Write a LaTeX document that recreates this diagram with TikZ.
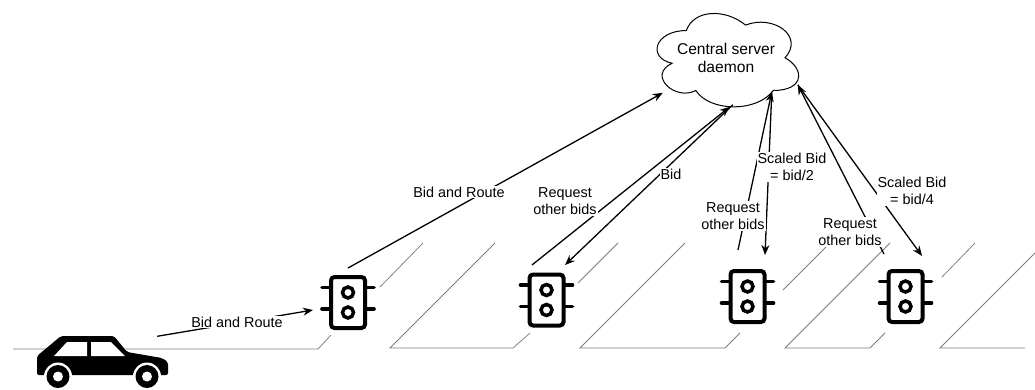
\documentclass[tikz,border=0pt]{standalone}
\usepackage{fontspec}
\setmainfont{Liberation Sans}
\usetikzlibrary{arrows.meta,calc}
\definecolor{roadgray}{RGB}{125,125,125}

\begin{document}
\begin{tikzpicture}[x=1pt,y=-1pt,
  road/.style={draw=roadgray, line width=0.75pt},
  link/.style={draw=black, line width=1.3pt, -{Stealth[length=10pt,width=8pt]}},
  tag/.style={fill=white, inner sep=1pt, align=center, font=\fontsize{14.4}{17.3}\selectfont},
  lightbody/.style={draw, line width=4pt, rounded corners=3.5pt, minimum width=34pt,
                    minimum height=51pt, inner sep=0pt},
  lamp/.style={line width=3.5pt},
  tick/.style={line width=3.6pt, line cap=round},
]
\useasboundingbox (0,0) rectangle (1035,389);
\clip (0,0) rectangle (1035,389);

% road lanes
\draw[road] (13,349) -- (318,349) -- (331,335);
\draw[road] (380,287) -- (423,243);
\draw[road] (495,243) -- (390,348) -- (513,348) -- (530,333);
\draw[road] (578,283) -- (618,243);
\draw[road] (685,243) -- (580,348) -- (725,348) -- (740,333);
\draw[road] (783,290) -- (830,243);
\draw[road] (890,243) -- (785,348) -- (870,348) -- (885,333);
\draw[road] (942,277) -- (975,243);
\draw[road] (1045,243) -- (940,348) -- (1025,348);

% car
\node[minimum width=131pt, minimum height=53pt, inner sep=0pt] (car) at (102.5,362) {};
\fill[rounded corners=2pt] (37,356) -- (61,336) -- (114,336) -- (127,352) -- (162,358)
  -- (168,362) -- (168,375) -- (37,375) -- cycle;
\fill[white] (54,356) -- (67,342) -- (87,342) -- (87,356) -- cycle;
\fill[white] (91,342) -- (111,342) -- (125,356) -- (91,356) -- cycle;
\foreach \wx in {58,147} {
  \fill[white] (\wx,376.5) circle[radius=14pt];
  \fill[black] (\wx,376.5) circle[radius=11.5pt];
  \fill[white] (\wx,376.5) circle[radius=5pt];
}

% traffic lights
\node[lightbody] (tl1) at (348,302.5) {};
\node[lightbody] (tl2) at (546.5,300) {};
\node[lightbody] (tl3) at (747.5,296.5) {};
\node[lightbody] (tl4) at (905.5,296.5) {};
\foreach \t in {tl1,tl2,tl3,tl4} {
  \draw[lamp] ($(\t.center)+(0,-10)$) circle[radius=5.5pt];
  \draw[lamp] ($(\t.center)+(0,10)$) circle[radius=5.5pt];
  \draw[tick] ($(\t.west)+(-7,-15)$) -- ($(\t.west)+(0,-15)$);
  \draw[tick] ($(\t.west)+(-7,6.5)$) -- ($(\t.west)+(0,6.5)$);
  \draw[tick] ($(\t.east)+(7,-15)$) -- ($(\t.east)+(0,-15)$);
  \draw[tick] ($(\t.east)+(7,6.5)$) -- ($(\t.east)+(0,6.5)$);
}

% central server
\node[minimum width=158pt, minimum height=109pt, inner sep=0pt, align=center,
      font=\fontsize{15.6}{18.4}\selectfont] (cloud) at (726,58) {Central server\\daemon};
\begin{scope}[shift={(cloud.north west)}, x=158pt, y=-109pt]
  \draw[line width=1pt] (0.25,0.25) .. controls (0.05,0.25) and (0,0.5) .. (0.16,0.55)
    .. controls (0,0.66) and (0.18,0.9) .. (0.31,0.8)
    .. controls (0.4,1) and (0.7,1) .. (0.8,0.8)
    .. controls (1,0.8) and (1,0.6) .. (0.875,0.5)
    .. controls (1,0.3) and (0.8,0.1) .. (0.625,0.2)
    .. controls (0.5,0.05) and (0.3,0.05) .. (0.25,0.25) -- cycle;
\end{scope}

% messages
\draw[link] ($(car.north east)+(-11,1)$) -- ($(tl1.center)+(-35,7.5)$);
\draw[link] ($(tl1.center)+(0,-34.5)$) -- ($(cloud.north west)+(16,89.5)$);
\draw[link] ($(tl2.center)+(-14.5,-35)$) -- ($(cloud.north west)+(83,103.5)$);
\draw[link] ($(cloud.north west)+(86,101.5)$) -- ($(tl2.center)+(18.5,-35)$);
\draw[link] ($(tl3.center)+(-9.5,-46.5)$) -- ($(cloud.north west)+(125,88.5)$);
\draw[link] ($(cloud.north west)+(125,88.5)$) -- ($(tl3.center)+(17.5,-41.5)$);
\draw[link] ($(tl4.center)+(-21.5,-42.5)$) -- ($(cloud.north west)+(151,81.5)$);
\draw[link] ($(cloud.north west)+(151,81.5)$) -- ($(tl4.center)+(16.5,-40.5)$);

% message labels
\node[tag] (m1) at (237,322) {Bid and Route};
\node[tag] (m2) at (459,192) {Bid and Route};
\node[tag] (m3) at (565,201) {Request\\other bids};
\node[tag] (m4) at (671,174) {Bid};
\node[tag] (m5) at (733,216) {Request\\other bids};
\node[tag] (m6) at (792,167) {Scaled Bid\\= bid/2};
\node[tag] (m7) at (850,232) {Request\\other bids};
\node[tag] (m8) at (912,191) {Scaled Bid\\= bid/4};
\end{tikzpicture}
\end{document}
